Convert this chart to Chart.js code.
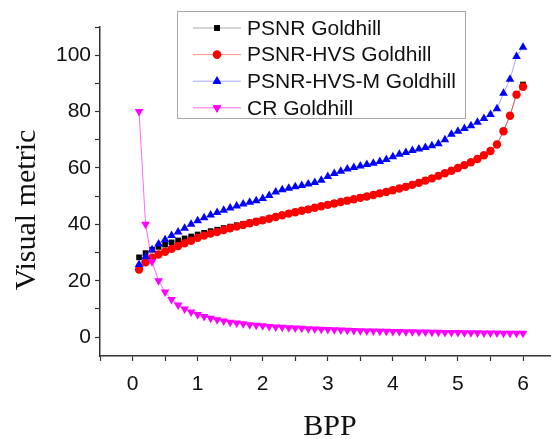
<!DOCTYPE html>
<html>
<head>
<meta charset="utf-8">
<script src="https://cdn.jsdelivr.net/npm/chart.js@4/dist/chart.umd.min.js"></script>
<style>
  body { margin: 0; background: #fff; }
  #c { display: block; }
</style>
</head>
<body>
<canvas id="c" width="551" height="439"></canvas>
<script>
// -----------------------------
// Data
// -----------------------------
const bpp = [0.1,0.2,0.3,0.4,0.5,0.6,0.7,0.8,0.9,1.0,
             1.1,1.2,1.3,1.4,1.5,1.6,1.7,1.8,1.9,2.0,
             2.1,2.2,2.3,2.4,2.5,2.6,2.7,2.8,2.9,3.0,
             3.1,3.2,3.3,3.4,3.5,3.6,3.7,3.8,3.9,4.0,
             4.1,4.2,4.3,4.4,4.5,4.6,4.7,4.8,4.9,5.0,
             5.1,5.2,5.3,5.4,5.5,5.6,5.7,5.8,5.9,6.0];

const psnr = [28.3,29.8,31.0,32.0,32.8,33.6,34.3,35.0,35.7,36.4,
              37.0,37.6,38.1,38.7,39.2,39.7,40.2,40.7,41.2,41.7,
              42.2,42.8,43.4,44.0,44.5,45.0,45.5,46.1,46.6,47.1,
              47.6,48.1,48.6,49.1,49.6,50.1,50.6,51.2,51.7,52.3,
              52.9,53.5,54.2,54.9,55.7,56.5,57.3,58.2,59.1,60.1,
              61.1,62.1,63.3,64.6,66.1,68.4,73.2,78.6,86.2,89.6];

const psnrHvs = [24.0,26.5,28.2,29.3,30.3,31.3,32.3,33.3,34.2,35.2,
                 36.0,36.7,37.3,38.0,38.6,39.2,39.8,40.4,40.9,41.4,
                 42.0,42.6,43.2,43.8,44.3,44.8,45.3,45.9,46.4,46.9,
                 47.4,47.9,48.4,48.9,49.4,49.9,50.4,51.0,51.5,52.1,
                 52.7,53.3,54.0,54.7,55.5,56.3,57.2,58.1,59.0,60.0,
                 61.0,62.0,63.2,64.5,66.0,68.3,73.0,78.5,86.0,88.8];

const psnrHvsM = [25.8,28.5,31.0,33.0,34.5,36.0,37.3,38.6,40.0,41.3,
                  42.3,43.3,44.2,45.0,45.8,46.5,47.2,47.8,48.4,49.2,
                  50.2,51.5,52.3,52.8,53.3,53.8,54.3,54.8,55.6,57.0,
                  58.0,58.8,59.6,60.2,60.7,61.2,61.7,62.3,63.0,64.0,
                  64.9,65.5,66.2,66.7,67.3,67.9,68.6,70.0,72.0,73.0,
                  74.0,75.0,76.2,77.5,79.0,81.0,86.5,91.5,99.5,102.8];

const cr = [80,40,26.7,20,16,13.3,11.4,10,8.9,8,
            7.3,6.7,6.2,5.7,5.3,5,4.7,4.4,4.2,4,
            3.8,3.6,3.5,3.3,3.2,3.1,3.0,2.9,2.8,2.7,
            2.6,2.5,2.4,2.35,2.3,2.2,2.16,2.1,2.05,2,
            1.95,1.9,1.86,1.82,1.78,1.74,1.7,1.67,1.63,1.6,
            1.57,1.54,1.51,1.48,1.45,1.43,1.4,1.38,1.36,1.33];

const seriesNames = ["PSNR Goldhill", "PSNR-HVS Goldhill", "PSNR-HVS-M Goldhill", "CR Goldhill"];
const xTicks = [-0.5,0,0.5,1,1.5,2,2.5,3,3.5,4,4.5,5,5.5,6];
const yTicks = [0,10,20,30,40,50,60,70,80,90,100,110];
const xTitle = "BPP";
const yTitle = "Visual metric";

// -----------------------------
// Helpers
// -----------------------------
function pts(ys) {
  return ys.map((y, i) => ({x: bpp[i], y: y}));
}

const styles = [
  {line: 'rgba(0,0,0,0.35)',     fill: '#000000', shape: 'rect',     radius: 4,   rot: 0},
  {line: 'rgba(255,0,0,0.45)',   fill: '#ff0000', shape: 'circle',   radius: 4.2, rot: 0},
  {line: 'rgba(0,0,255,0.35)',   fill: '#0000ff', shape: 'triangle', radius: 5,   rot: 0},
  {line: 'rgba(255,0,255,0.6)',  fill: '#ff00ff', shape: 'triangle', radius: 5,   rot: 180}
];

const SANS = '"Liberation Sans", Arial, sans-serif';
const SERIF = '"Liberation Serif", "Times New Roman", serif';

// legend in a box inside the plot + axis titles
const decorations = {
  id: 'decorations',
  afterDraw(chart) {
    const ctx = chart.ctx;
    const x0 = 177.5, y0 = 11.5, w = 288, h = 107;
    ctx.save();
    ctx.fillStyle = '#fff';
    ctx.fillRect(x0, y0, w, h);
    ctx.strokeStyle = '#a8a8a8';
    ctx.lineWidth = 1;
    ctx.strokeRect(x0, y0, w, h);
    ctx.font = '21px ' + SANS;
    ctx.textBaseline = 'middle';
    seriesNames.forEach((name, i) => {
      const s = styles[i];
      const y = 28 + i * 26.6;
      ctx.strokeStyle = s.line;
      ctx.beginPath();
      ctx.moveTo(193, y);
      ctx.lineTo(241, y);
      ctx.stroke();
      ctx.fillStyle = s.fill;
      ctx.beginPath();
      Chart.helpers.drawPoint(ctx, {
        pointStyle: s.shape, radius: s.radius, rotation: s.rot,
        borderWidth: 0
      }, 217, y);
      ctx.fill();
      ctx.fillStyle = '#111';
      ctx.fillText(name, 247, y + 1);
    });

    // axis titles
    ctx.fillStyle = '#111';
    ctx.font = '30px ' + SERIF;
    ctx.textAlign = 'center';
    ctx.textBaseline = 'middle';
    ctx.fillText(xTitle, 330, 427);
    ctx.translate(27, 210);
    ctx.rotate(-Math.PI / 2);
    ctx.fillText(yTitle, 0, 0);
    ctx.restore();
  }
};

const datasets = [psnr, psnrHvs, psnrHvsM, cr].map((d, i) => ({
  label: seriesNames[i],
  data: pts(d),
  borderColor: styles[i].line,
  borderWidth: 1,
  pointStyle: styles[i].shape,
  pointRotation: styles[i].rot,
  pointRadius: styles[i].radius,
  pointBackgroundColor: styles[i].fill,
  pointBorderColor: styles[i].fill,
  pointBorderWidth: 0,
  order: 4 - i
}));

new Chart(document.getElementById('c'), {
  type: 'line',
  data: { datasets: datasets },
  options: {
    responsive: false,
    animation: false,
    layout: { autoPadding: false, padding: { top: 27, right: 0, left: 0, bottom: 0 } },
    plugins: { legend: { display: false }, tooltip: { enabled: false } },
    scales: {
      x: {
        type: 'linear',
        min: -0.5,
        max: 6.43,
        afterBuildTicks: (s) => { s.ticks = xTicks.map(v => ({value: v})); },
        afterFit: (s) => { s.height = 83; },
        border: { display: true, color: '#333', width: 1.5 },
        grid: { drawOnChartArea: false, drawTicks: true, tickLength: 5, tickColor: '#333', tickWidth: 1.2 },
        ticks: {
          color: '#111',
          padding: 11,
          maxRotation: 0,
          autoSkip: false,
          font: { family: SANS, size: 21 },
          callback: (v) => Number.isInteger(v) ? v : ''
        }
      },
      y: {
        min: -6.7,
        max: 110,
        afterBuildTicks: (s) => { s.ticks = yTicks.map(v => ({value: v})); },
        afterFit: (s) => { s.width = 100; },
        border: { display: true, color: '#333', width: 1.5 },
        grid: { drawOnChartArea: false, drawTicks: true, tickLength: 5, tickColor: '#333', tickWidth: 1.2 },
        ticks: {
          color: '#111',
          padding: 4,
          autoSkip: false,
          font: { family: SANS, size: 21 },
          callback: (v) => (v % 20 === 0 && v <= 100) ? v : ''
        }
      }
    }
  },
  plugins: [decorations]
});
</script>
</body>
</html>
